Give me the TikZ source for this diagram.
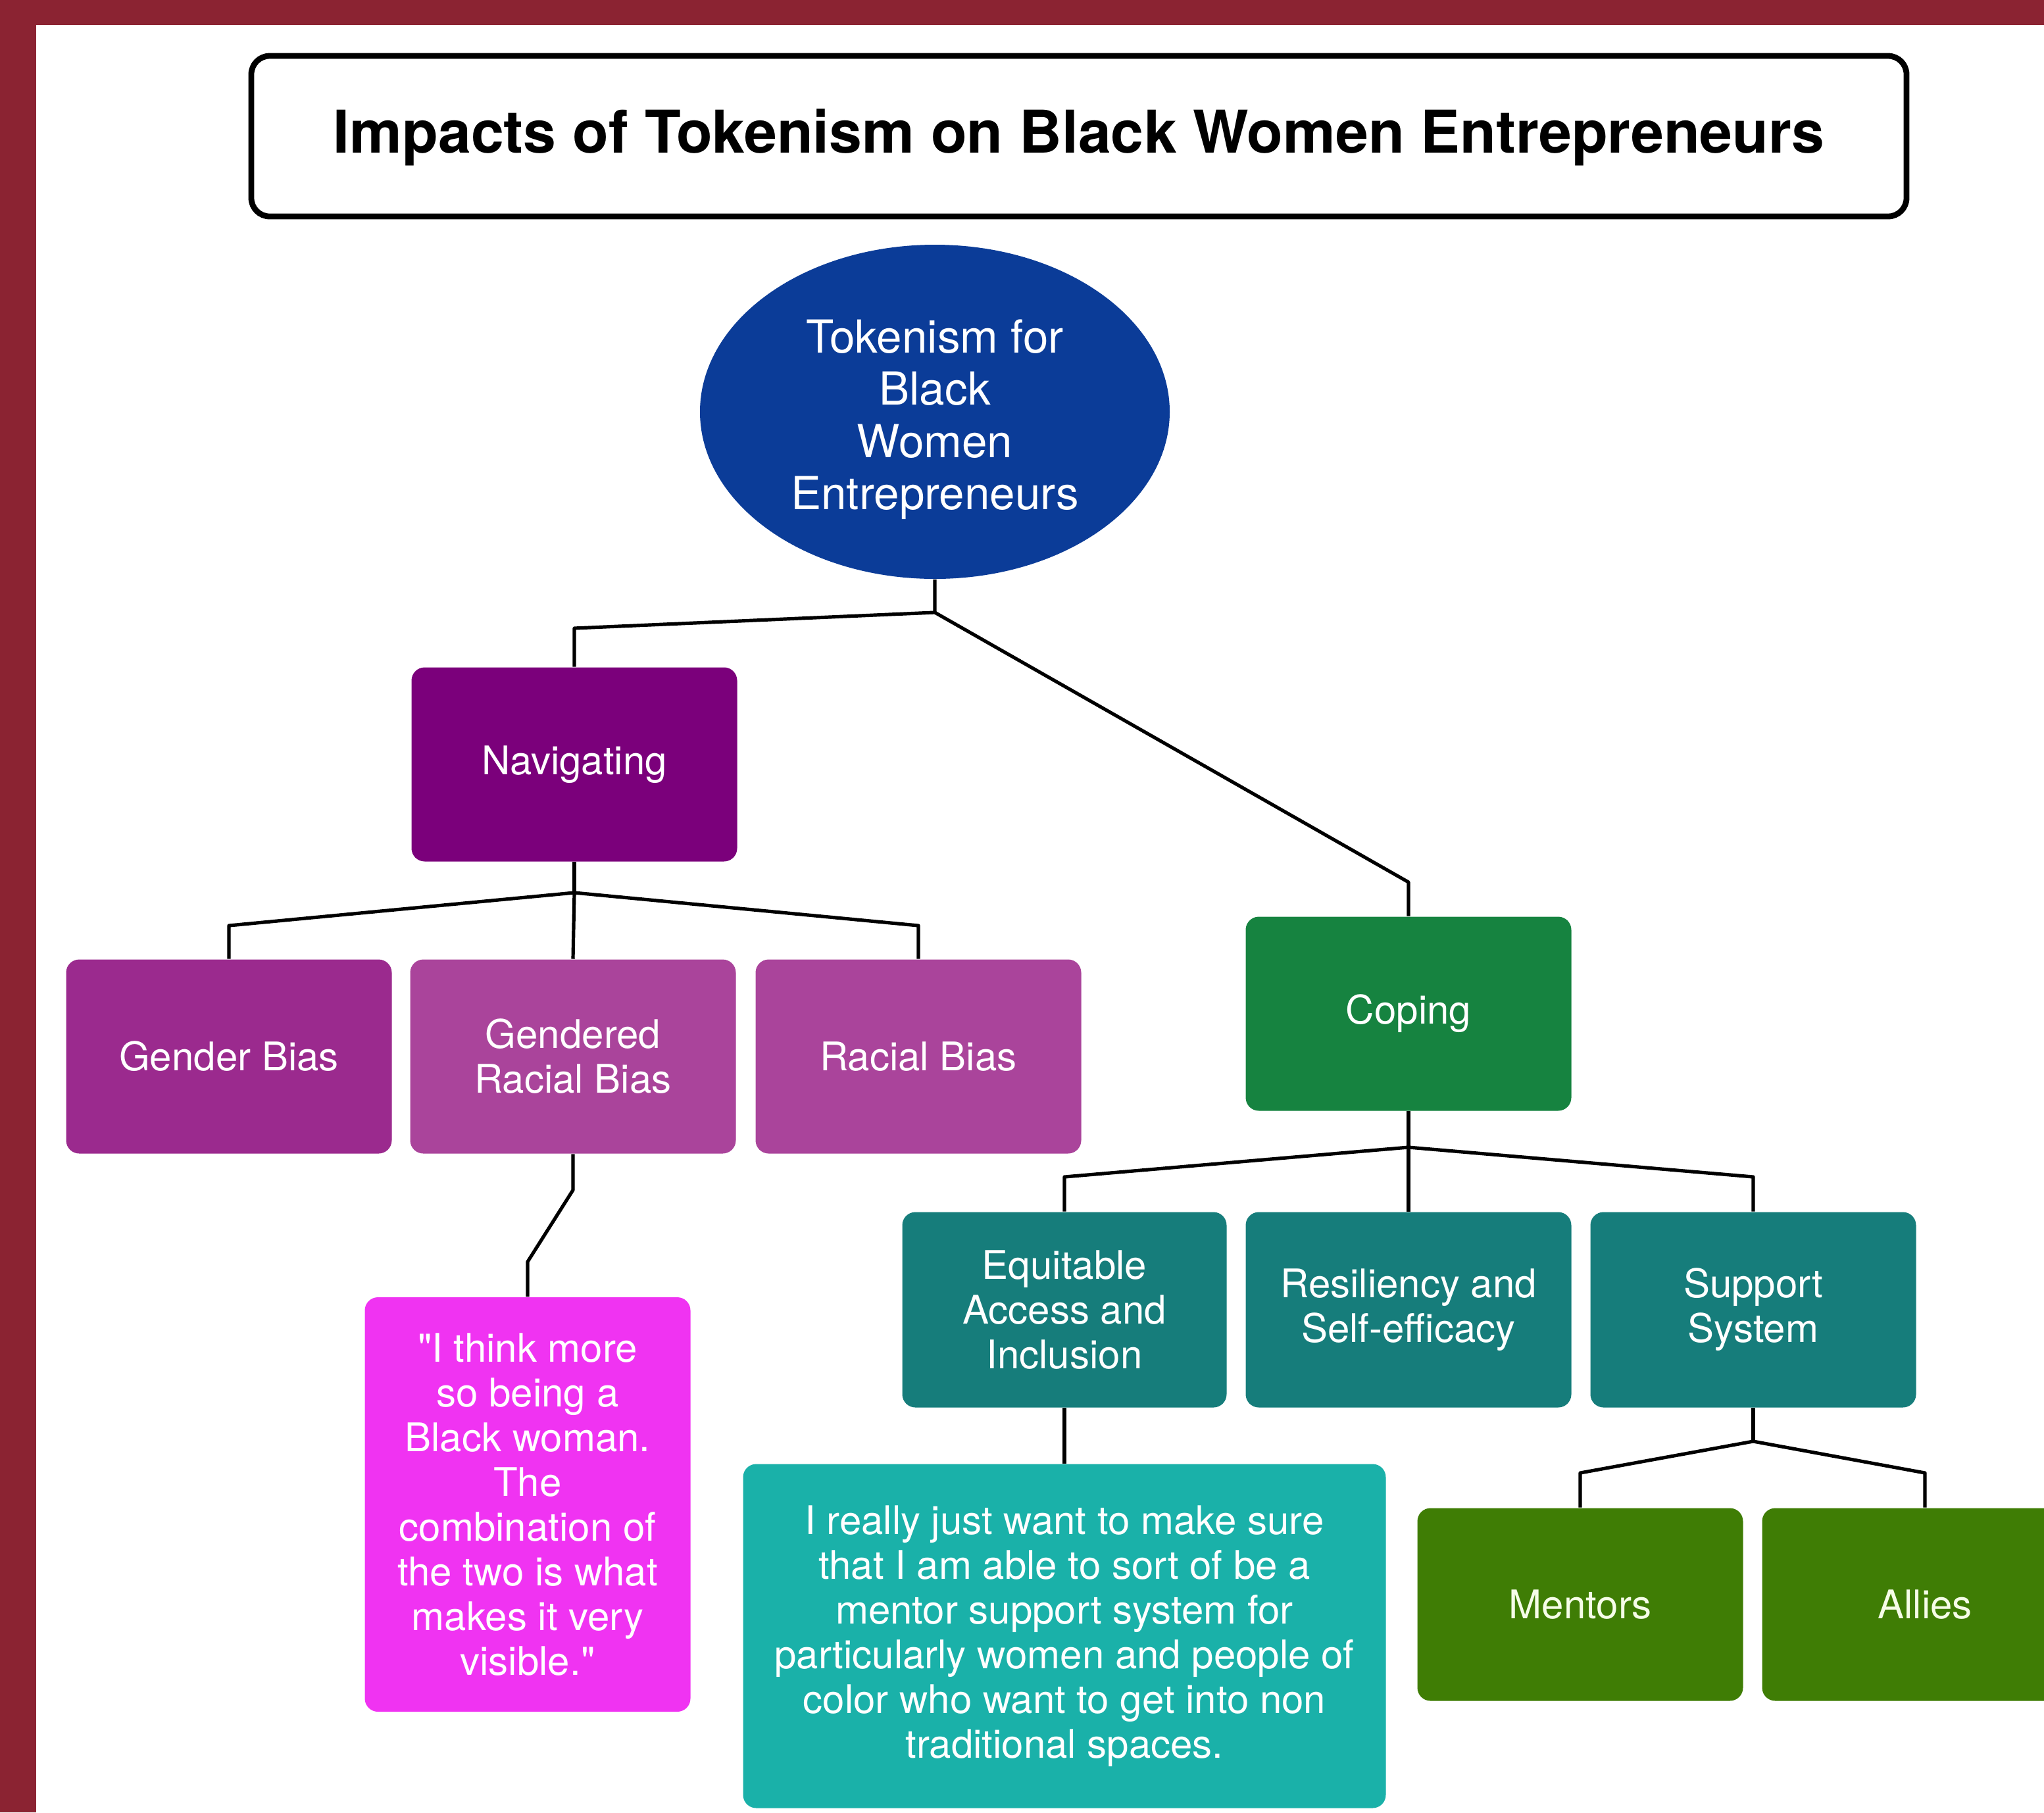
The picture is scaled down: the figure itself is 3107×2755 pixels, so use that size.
\documentclass[tikz,border=0pt]{standalone}
\usepackage{fontspec}
\setmainfont{TeX Gyre Heros}
\usetikzlibrary{shapes.geometric}

\definecolor{frame}{HTML}{8B2332}
\definecolor{rootblue}{HTML}{0B3C98}
\definecolor{navpurple}{HTML}{7B007B}
\definecolor{genderpurple}{HTML}{9B2A8E}
\definecolor{biaspurple}{HTML}{AA449B}
\definecolor{quotepink}{HTML}{F033F2}
\definecolor{copegreen}{HTML}{168340}
\definecolor{tealbox}{HTML}{167D7B}
\definecolor{quoteteal}{HTML}{1AB1A9}
\definecolor{leafgreen}{HTML}{3F7D05}
\definecolor{leaftext}{HTML}{F6FDE8}

\tikzset{
  box/.style={rectangle, rounded corners=5pt, minimum width=123.75pt,
    minimum height=73.75pt, inner sep=2pt, align=center, text=white,
    font=\fontsize{15}{17}\selectfont},
  link/.style={line width=1.3pt, black, line join=round},
}

\begin{document}
\begin{tikzpicture}[x=0.25pt, y=-0.25pt]
  \useasboundingbox (0,0) rectangle (3107,2755);
  \clip (0,0) rectangle (3107,2755);

  % page frame
  \fill[frame] (0,0) rectangle (3107,2755);
  \fill[white] (55,38) rectangle (3107,2755);

  % title
  \node[draw=black, line width=2.2pt, rounded corners=7pt, fill=white,
        minimum width=629pt, minimum height=61pt, inner sep=0pt,
        font=\bfseries\fontsize{22.4}{26}\selectfont] (title) at (1640,207)
        {\rule{0pt}{17.5pt}Impacts of Tokenism on Black Women Entrepreneurs};

  % root
  \node[ellipse, fill=rootblue, minimum width=178.5pt, minimum height=127pt,
        inner sep=0pt, align=center, text=white,
        font=\fontsize{17.3}{19.8}\selectfont] (root) at (1421,626)
        {\rule{0pt}{18.5pt}Tokenism for\\Black\\Women\\Entrepreneurs};

  % navigating branch
  \node[box, fill=navpurple] (nav) at (873,1162) {Navigating};
  \node[box, fill=genderpurple] (gender) at (348,1606) {Gender Bias};
  \node[box, fill=biaspurple] (gendered) at (871,1606) {Gendered\\Racial Bias};
  \node[box, fill=biaspurple] (racial) at (1396,1606) {Racial Bias};
  \node[box, fill=quotepink, minimum height=157.5pt] (quote) at (802,2287)
        {\textquotedbl I think more\\so being a\\Black woman.\\The\\combination of\\the two is what\\makes it very\\visible.\textquotedbl};

  % coping branch
  \node[box, fill=copegreen] (coping) at (2141,1541) {Coping};
  \node[box, fill=tealbox, minimum width=123.25pt, minimum height=74.25pt] (equit) at (1618,1991)
        {Equitable\\Access and\\Inclusion};
  \node[box, fill=tealbox, minimum height=74.25pt] (resil) at (2141,1991)
        {Resiliency and\\Self-efficacy};
  \node[box, fill=tealbox, minimum height=74.25pt] (support) at (2665,1991)
        {Support\\System};
  \node[box, fill=quoteteal, minimum width=244.25pt, minimum height=130.75pt] (longquote) at (1618,2487)
        {I really just want to make sure\\that I am able to sort of be a\\mentor support system for\\particularly women and people of\\color who want to get into non\\traditional spaces.};
  \node[box, fill=leafgreen, text=leaftext, minimum height=73.25pt] (mentors) at (2402,2439) {Mentors};
  \node[box, fill=leafgreen, text=leaftext, minimum height=73.25pt] (allies) at (2926,2439) {Allies};

  % junction points
  \coordinate (jroot) at (1421,931);
  \coordinate (jnav) at (873,1357);
  \coordinate (jgr) at (871,1809);
  \coordinate (jq) at (802,1918);
  \coordinate (jcope) at (2141,1744);
  \coordinate (jsup) at (2665,2191);

  % connectors
  \draw[link] (root.south) -- (jroot) -- (nav.north |- 0,955) -- (nav.north);
  \draw[link] (jroot) -- (coping.north |- 0,1341) -- (coping.north);

  \draw[link] (nav.south) -- (jnav);
  \draw[link] (jnav) -- (gender.north |- 0,1407) -- (gender.north);
  \draw[link] (jnav) -- (gendered.north);
  \draw[link] (jnav) -- (racial.north |- 0,1407) -- (racial.north);

  \draw[link] (gendered.south) -- (jgr) -- (jq) -- (quote.north);

  \draw[link] (coping.south) -- (jcope);
  \draw[link] (jcope) -- (equit.north |- 0,1789) -- (equit.north);
  \draw[link] (jcope) -- (resil.north);
  \draw[link] (jcope) -- (support.north |- 0,1789) -- (support.north);

  \draw[link] (equit.south) -- (longquote.north);

  \draw[link] (support.south) -- (jsup);
  \draw[link] (jsup) -- (mentors.north |- 0,2239) -- (mentors.north);
  \draw[link] (jsup) -- (allies.north |- 0,2239) -- (allies.north);
\end{tikzpicture}
\end{document}
